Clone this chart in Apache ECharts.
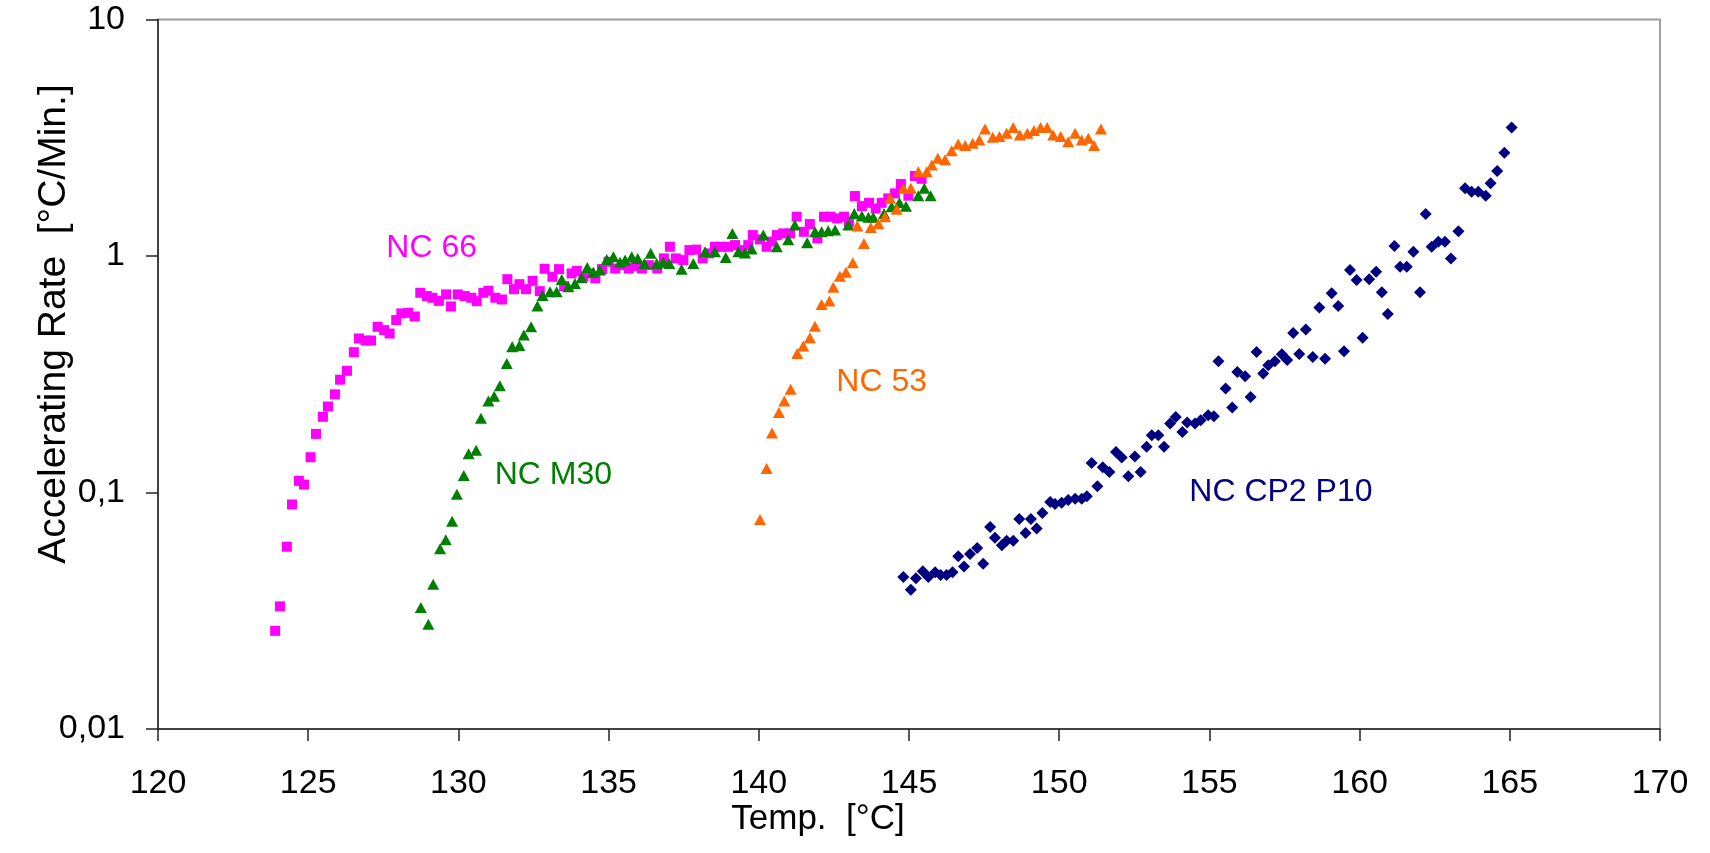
<!DOCTYPE html>
<html>
<head>
<meta charset="utf-8">
<script src="https://cdn.jsdelivr.net/npm/echarts@6/dist/echarts.min.js"></script>
<style>
html,body{margin:0;padding:0;background:#fff;}
#chart{width:1710px;height:853px;}
</style>
</head>
<body>
<div id="chart"></div>
<script>
// ---- data (Temp °C, Accelerating Rate °C/min) ----
const xTicks = [120, 125, 130, 135, 140, 145, 150, 155, 160, 165, 170];
const yTicks = [0.01, 0.1, 1, 10];

const nc66 = [[123.9,0.026],[124.06,0.033],[124.29,0.059],[124.46,0.089],[124.69,0.112],[124.86,0.108],[125.08,0.141],[125.26,0.177],[125.49,0.209],[125.66,0.231],[125.89,0.26],[126.06,0.30],[126.29,0.327],[126.52,0.392],[126.69,0.448],[126.91,0.439],[127.09,0.439],[127.31,0.502],[127.53,0.486],[127.71,0.47],[127.93,0.536],[128.1,0.572],[128.33,0.575],[128.55,0.555],[128.73,0.699],[128.95,0.677],[129.13,0.666],[129.35,0.646],[129.59,0.688],[129.75,0.612],[129.98,0.688],[130.21,0.677],[130.43,0.666],[130.61,0.644],[130.83,0.699],[131.0,0.713],[131.23,0.666],[131.45,0.655],[131.63,0.798],[131.85,0.724],[132.03,0.76],[132.25,0.724],[132.47,0.785],[132.71,0.71],[132.87,0.883],[133.13,0.817],[133.35,0.88],[133.52,0.746],[133.77,0.844],[133.94,0.865],[134.16,0.817],[134.38,0.844],[134.56,0.804],[134.78,0.88],[135.0,0.945],[135.22,0.885],[135.45,0.915],[135.67,0.885],[135.89,0.906],[136.11,0.885],[136.34,0.915],[136.62,0.885],[136.84,0.977],[137.04,1.094],[137.24,0.977],[137.49,0.961],[137.69,1.059],[137.91,1.064],[138.13,0.977],[138.35,1.026],[138.54,1.094],[138.76,1.094],[138.98,1.094],[139.21,1.112],[139.43,1.059],[139.65,1.112],[139.8,1.226],[140.04,1.175],[140.26,1.094],[140.43,1.15],[140.6,1.226],[140.81,1.246],[141.04,1.246],[141.26,1.466],[141.5,1.266],[141.7,1.365],[141.95,1.187],[142.17,1.466],[142.39,1.466],[142.61,1.442],[142.84,1.466],[143.0,1.395],[143.2,1.793],[143.43,1.625],[143.67,1.678],[143.89,1.589],[144.09,1.678],[144.31,1.753],[144.53,1.84],[144.73,2.015],[144.98,1.80],[145.2,2.179],[145.42,2.12]];

const ncM30 = [[128.75,0.0326],[129.0,0.0277],[129.16,0.0409],[129.39,0.0579],[129.58,0.0632],[129.79,0.0755],[129.95,0.0983],[130.18,0.118],[130.34,0.146],[130.59,0.151],[130.75,0.206],[131.0,0.244],[131.19,0.255],[131.38,0.283],[131.61,0.351],[131.79,0.413],[132.03,0.418],[132.18,0.463],[132.42,0.502],[132.63,0.614],[132.8,0.68],[133.05,0.706],[133.27,0.706],[133.44,0.796],[133.66,0.741],[133.88,0.765],[134.1,0.809],[134.29,0.895],[134.49,0.853],[134.71,0.872],[134.94,0.967],[135.16,0.992],[135.38,0.94],[135.55,0.961],[135.77,0.992],[135.97,0.977],[136.19,0.93],[136.4,1.026],[136.6,0.93],[136.82,0.94],[137.02,0.93],[137.43,0.878],[137.82,0.93],[138.21,1.042],[138.54,1.042],[138.9,0.986],[139.12,1.246],[139.32,1.042],[139.54,1.03],[139.76,1.07],[140.15,1.226],[140.6,1.094],[140.98,1.17],[141.2,1.352],[141.61,1.137],[141.87,1.266],[142.09,1.266],[142.31,1.28],[142.54,1.287],[142.98,1.352],[143.18,1.514],[143.43,1.475],[143.65,1.46],[143.81,1.46],[144.17,1.514],[144.42,1.615],[144.68,1.678],[144.9,1.625],[145.31,1.80],[145.51,1.932],[145.72,1.80]];

const nc53 = [[140.04,0.0768],[140.26,0.1263],[140.44,0.1786],[140.67,0.218],[140.85,0.244],[141.06,0.2734],[141.28,0.387],[141.48,0.416],[141.7,0.451],[141.87,0.505],[142.09,0.624],[142.35,0.646],[142.48,0.737],[142.7,0.822],[142.9,0.853],[143.13,0.936],[143.28,1.338],[143.5,1.13],[143.73,1.32],[143.98,1.37],[144.2,1.466],[144.37,1.753],[144.59,1.575],[144.81,1.932],[145.06,1.932],[145.31,2.27],[145.59,2.27],[145.76,2.426],[145.96,2.588],[146.2,2.55],[146.42,2.788],[146.64,2.976],[146.87,2.93],[147.12,3.0],[147.34,3.09],[147.53,3.44],[147.79,3.18],[148.01,3.2],[148.25,3.3],[148.47,3.49],[148.69,3.25],[148.94,3.3],[149.16,3.39],[149.38,3.49],[149.6,3.49],[149.8,3.25],[150.05,3.2],[150.3,3.04],[150.53,3.3],[150.75,3.09],[150.97,3.15],[151.16,2.93],[151.39,3.44]];

const ncCP2P10 = [[144.81,0.0439],[145.06,0.0388],[145.23,0.0434],[145.46,0.0464],[145.64,0.0439],[145.87,0.046],[146.05,0.0448],[146.25,0.0448],[146.45,0.046],[146.64,0.0537],[146.83,0.0487],[147.03,0.055],[147.27,0.0582],[147.47,0.05],[147.7,0.0714],[147.86,0.0644],[148.09,0.0598],[148.25,0.0625],[148.47,0.0625],[148.67,0.0772],[148.88,0.0674],[149.06,0.0772],[149.25,0.0704],[149.44,0.0819],[149.7,0.0912],[149.86,0.0894],[150.08,0.0905],[150.3,0.093],[150.53,0.0942],[150.75,0.0942],[150.92,0.0963],[151.08,0.1333],[151.27,0.1062],[151.45,0.128],[151.67,0.1222],[151.89,0.1484],[152.08,0.1405],[152.3,0.1171],[152.52,0.142],[152.71,0.1222],[152.91,0.156],[153.08,0.1746],[153.3,0.1746],[153.49,0.156],[153.69,0.1957],[153.88,0.2088],[154.1,0.1803],[154.26,0.1978],[154.52,0.1957],[154.71,0.202],[154.96,0.212],[155.15,0.21],[155.3,0.359],[155.54,0.2752],[155.76,0.2288],[155.93,0.3236],[156.19,0.31],[156.37,0.2537],[156.57,0.393],[156.79,0.3186],[156.96,0.3454],[157.18,0.359],[157.41,0.3846],[157.59,0.363],[157.79,0.473],[157.99,0.385],[158.21,0.489],[158.44,0.374],[158.66,0.606],[158.85,0.368],[159.07,0.695],[159.29,0.614],[159.48,0.396],[159.68,0.872],[159.9,0.791],[160.1,0.451],[160.32,0.798],[160.55,0.857],[160.74,0.702],[160.94,0.568],[161.16,1.101],[161.35,0.9],[161.57,0.9],[161.79,1.042],[162.01,0.702],[162.2,1.504],[162.4,1.094],[162.62,1.148],[162.84,1.148],[163.04,0.977],[163.29,1.274],[163.51,1.932],[163.73,1.87],[163.95,1.87],[164.2,1.80],[164.36,2.03],[164.58,2.287],[164.82,2.733],[165.06,3.49]];

// series labels: [text, temp, rate, color]
const seriesLabels = [
  ['NC 66', 129.11, 1.077, '#FF00FF'],
  ['NC M30', 133.16, 0.1183, '#008000'],
  ['NC 53', 144.09, 0.2926, '#FF6600'],
  ['NC CP2 P10', 157.38, 0.1005, '#000080']
];
const xTitle = 'Temp.  [°C]';
const yTitle = 'Accelerating Rate  [°C/Min.]';

const FONT = '"Liberation Sans", Arial, sans-serif';
const chart = echarts.init(document.getElementById('chart'), null, {renderer: 'canvas'});

const option = {
  backgroundColor: '#ffffff',
  animation: false,
  grid: {
    left: 158, right: 50, top: 19.5, bottom: 124,
    containLabel: false,
    outerBoundsMode: 'none',
    show: true, borderColor: '#a0a0a0', borderWidth: 2, backgroundColor: 'transparent'
  },
  xAxis: {
    type: 'value', min: xTicks[0], max: xTicks[xTicks.length - 1], interval: 5,
    axisLine: {show: true, onZero: false, lineStyle: {color: '#222', width: 1.5}},
    axisTick: {show: true, inside: false, length: 12, lineStyle: {color: '#222', width: 1.5}},
    splitLine: {show: false},
    axisLabel: {show: true, margin: 38, color: '#000', fontSize: 34, fontFamily: FONT,
      formatter: v => String(v)}
  },
  yAxis: {
    type: 'log', logBase: 10, min: yTicks[0], max: yTicks[yTicks.length - 1],
    axisLine: {show: true, lineStyle: {color: '#222', width: 1.5}},
    axisTick: {show: true, inside: false, length: 12, lineStyle: {color: '#222', width: 1.5}},
    minorTick: {show: false},
    splitLine: {show: false},
    axisLabel: {show: true, margin: 33, color: '#000', fontSize: 34, fontFamily: FONT,
      formatter: v => String(+v.toPrecision(6)).replace('.', ',')}
  },
  series: [
    {name: 'NC 66', type: 'scatter', data: nc66, symbol: 'rect', symbolSize: 10,
      itemStyle: {color: '#FF00FF', opacity: 1}},
    {name: 'NC M30', type: 'scatter', data: ncM30, symbol: 'triangle', symbolSize: [12, 11],
      itemStyle: {color: '#008000', opacity: 1}},
    {name: 'NC 53', type: 'scatter', data: nc53, symbol: 'triangle', symbolSize: [12, 11],
      itemStyle: {color: '#FF6600', opacity: 1}},
    {name: 'NC CP2 P10', type: 'scatter', data: ncCP2P10, symbol: 'diamond', symbolSize: [12, 12],
      itemStyle: {color: '#000080', opacity: 1}}
  ]
};
chart.setOption(option);

const g = [];
seriesLabels.forEach(function (l, i) {
  const p = chart.convertToPixel({gridIndex: 0}, [l[1], l[2]]);
  g.push({type: 'text', id: 'lbl' + i, x: p[0], y: p[1], z: 100,
    style: {text: l[0], fill: l[3], font: '32px ' + FONT, align: 'center', verticalAlign: 'middle'}});
});
g.push({type: 'text', id: 'xt', x: 818, y: 819, z: 100,
  style: {text: xTitle, fill: '#000', font: '35px ' + FONT, align: 'center', verticalAlign: 'middle'}});
g.push({type: 'text', id: 'yt', x: 54, y: 324, rotation: Math.PI / 2, z: 100,
  style: {text: yTitle, fill: '#000', font: '39px ' + FONT, align: 'center', verticalAlign: 'middle'}});
chart.setOption({graphic: g});
</script>
</body>
</html>
